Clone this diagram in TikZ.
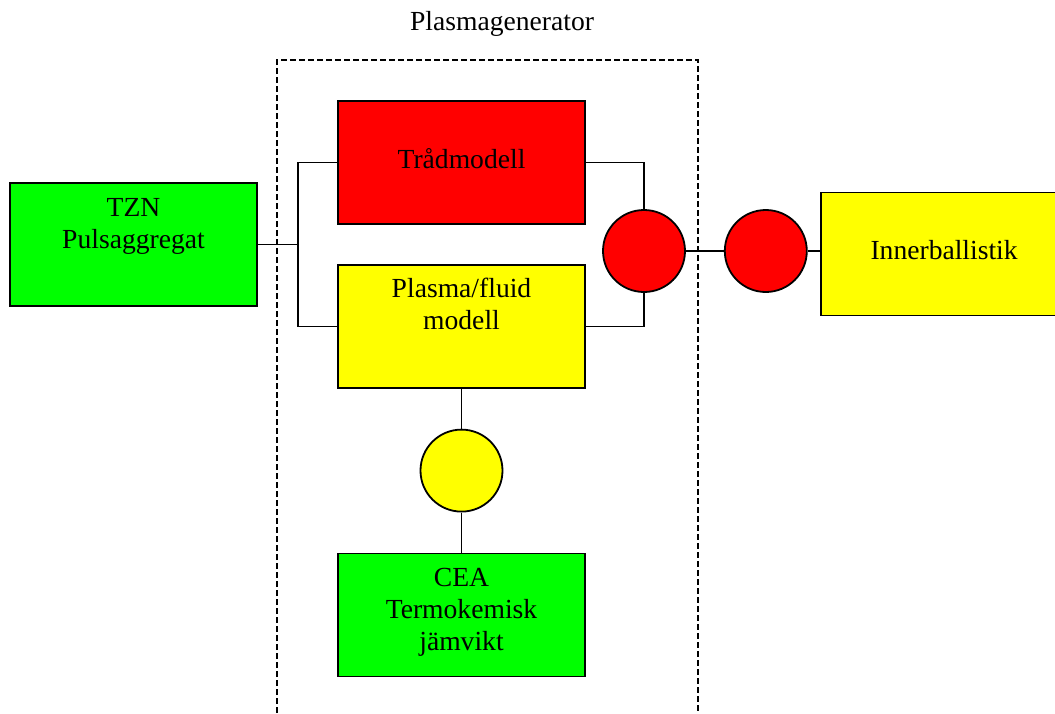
\documentclass[tikz,border=0pt]{standalone}
\usepackage{fontspec}
\setmainfont{Liberation Serif}
\usepackage{tikz}
\usetikzlibrary{positioning}

\definecolor{redfill}{RGB}{255,0,0}
\definecolor{yellowfill}{RGB}{255,255,0}
\definecolor{greenfill}{RGB}{0,255,0}

\newcommand{\boxlines}[1]{\begin{tabular}[t]{@{}c@{}}#1\end{tabular}}

\begin{document}
\begin{tikzpicture}[x=0.5pt,y=-0.5pt,font=\fontsize{13.8pt}{16pt}\selectfont]
  \tikzset{modbox/.style={draw=black,line width=0.9pt,inner sep=0pt,minimum width=123.5pt},
           oneline/.style={text height=33.5pt,text depth=28pt},
           multiline/.style={text height=16.5pt,text depth=45pt},
           junction/.style={circle,draw=black,line width=0.9pt,minimum size=41pt,inner sep=0pt},
           link/.style={line width=0.8pt},
           frame/.style={line width=0.8pt,dash pattern=on 3pt off 1.5pt}}
  \clip (0,0) rectangle (1055,713);

  %--- Generator frame (open at bottom) ---
  \node (title) at (502,24) {Plasmagenerator};
  \draw[frame] (277,713) |- (698,60) -- (698,713);

  %--- Model boxes ---
  \node[modbox, oneline, fill=redfill] (trad) at (461.5,162.5) {Trådmodell};
  \node[modbox, multiline, fill=yellowfill] (plasma) [below=19.5pt of trad] {\boxlines{Plasma/fluid\\modell}};
  \node[junction, fill=yellowfill] (eqjoin) [below=20pt of plasma] {};
  \node[modbox, multiline, fill=greenfill] (cea) [below=20pt of eqjoin] {\boxlines{CEA\\Termokemisk\\jämvikt}};

  \node[modbox, multiline, fill=greenfill] (tzn) at (133.5,244.5) {\boxlines{TZN\\Pulsaggregat}};

  %--- Coupling to ballistics ---
  \node[junction, fill=redfill] (outjoin) at (644,251) {};
  \node[junction, fill=redfill] (balljoin) [right=19pt of outjoin] {};
  \node[modbox, oneline, fill=yellowfill] (inner) [right=6pt of balljoin, yshift=-1.5pt] {Innerballistik};

  %--- Connectors ---
  \coordinate (split) at (298,244.5);
  \draw[link] (tzn.east) -- (split);
  \draw[link] (split) |- (trad.west);
  \draw[link] (split) |- (plasma.west);
  \draw[link] (trad.east) -| (outjoin.north);
  \draw[link] (plasma.east) -| (outjoin.south);
  \draw[link] (outjoin) -- (balljoin);
  \draw[link] (balljoin.east) -- (balljoin.east -| inner.west);
  \draw[link] (plasma) -- (eqjoin);
  \draw[link] (eqjoin) -- (cea);
\end{tikzpicture}
\end{document}
